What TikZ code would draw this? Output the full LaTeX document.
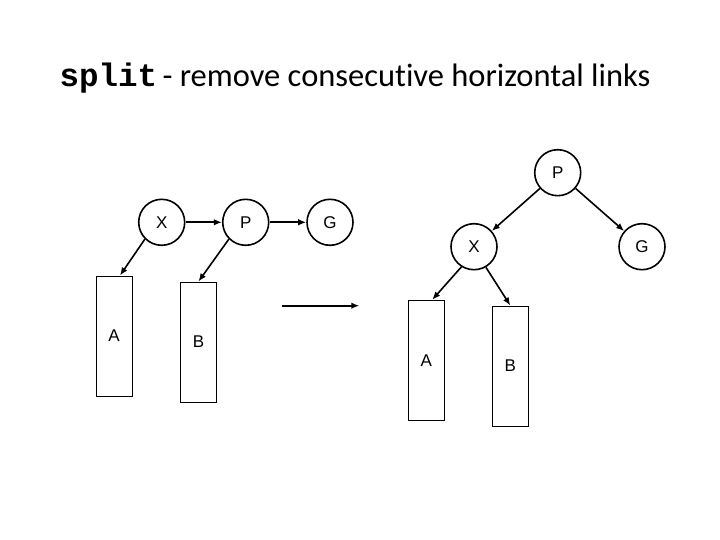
\documentclass[tikz,border=0pt]{standalone}
\usepackage{fontspec}
\setmainfont[RawFeature={-liga;-clig;-calt;-dlig}]{Carlito}
\setmonofont{Liberation Mono}
\newfontfamily\arialfont{Liberation Sans}
\usetikzlibrary{arrows.meta}
\tikzset{
  nd/.style={circle,draw,line width=1.6pt,minimum size=46pt,inner sep=0pt,font=\arialfont\fontsize{17}{17}\selectfont},
  bx/.style={rectangle,draw,line width=1pt,minimum width=36pt,minimum height=120pt,inner sep=0pt,font=\arialfont\fontsize{17}{17}\selectfont},
  ar/.style={line width=1.6pt,-{Latex[length=8pt,width=6.5pt]}}
}
\begin{document}
\begin{tikzpicture}[x=1pt,y=-1pt]
\useasboundingbox (0,0) rectangle (720,540);
\node[font=\fontsize{32.5}{32.5}\selectfont,anchor=base] (title) at (355,87) {{\ttfamily\bfseries split}\,- remove consecutive horizontal links};
% left
\node[nd] (X1) at (161.7,222.3) {X};
\node[nd] (P1) at (245.7,222.3) {P};
\node[nd] (G1) at (330,222.3) {G};
\node[bx] (A1) at (114,336) {A};
\node[bx] (B1) at (198.5,342) {B};
\draw[ar] (X1) -- (P1);
\draw[ar] (P1) -- (G1);
\draw[ar] (X1.225) -- ([xshift=6pt]A1.north);
\draw[ar] (P1.225) -- ([xshift=0pt]B1.north);
% middle
\coordinate (m1) at (282.3,305.7);
\coordinate (m2) at (359.3,305.7);
\draw[ar] (m1) -- (m2);
% right
\node[nd] (P2) at (557.7,172.7) {P};
\node[nd] (X2) at (474,246.7) {X};
\node[nd] (G2) at (642,246.7) {G};
\node[bx] (A2) at (426.3,360.2) {A};
\node[bx] (B2) at (510.3,366) {B};
\draw[ar] (P2) -- (X2);
\draw[ar] (P2) -- (G2);
\draw[ar] (X2.238) -- ([xshift=6pt]A2.north);
\draw[ar] (X2.300) -- (B2.north);
\end{tikzpicture}
\end{document}
